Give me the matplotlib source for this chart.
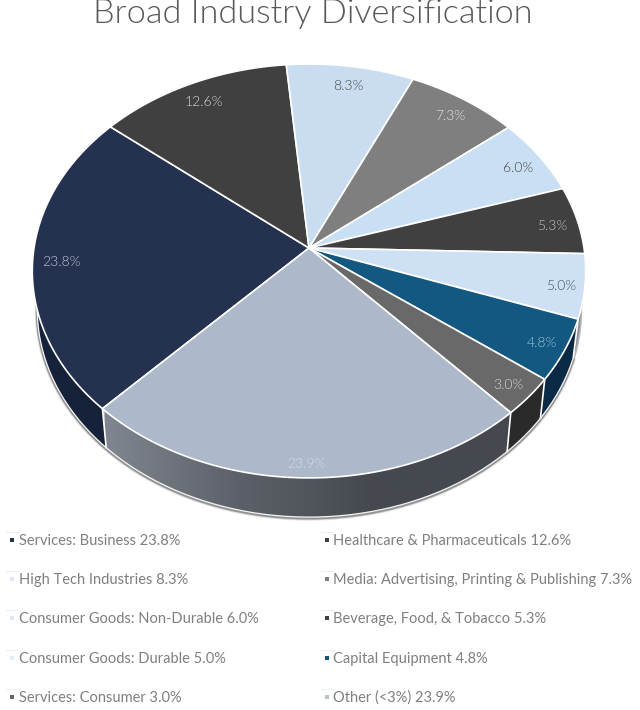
import numpy as np
import matplotlib
matplotlib.use("Agg")
import matplotlib.pyplot as plt
from matplotlib.colors import LinearSegmentedColormap
from matplotlib.patches import Polygon

# sector names, shares and colours, clockwise from the lower left
names = ["Services: Business", "Healthcare & Pharmaceuticals", "High Tech Industries",
         "Media: Advertising, Printing & Publishing", "Consumer Goods: Non-Durable",
         "Beverage, Food, & Tobacco", "Consumer Goods: Durable", "Capital Equipment",
         "Services: Consumer", "Other (<3%)"]
shares = [23.8, 12.6, 8.3, 7.3, 6.0, 5.3, 5.0, 4.8, 3.0, 23.9]
top_colors = ["#243250", "#404040", "#c9dcf0", "#7f7f7f", "#c9dff3",
              "#404040", "#cde0f4", "#125880", "#696969", "#adb9ca"]
side_colors = ["#16223a", "#2a2a2a", "#8a8f96", "#555555", "#8a8f96",
               "#2a2a2a", "#8a8f96", "#0b2a45", "#2a2a2a", None]
label_colors = ["#c0c8d8", "#d8d8d8", "#4a4a4a", "#e4e4e4", "#444444",
                "#c4c4c4", "#445060", "#9cc5e0", "#d8d8d8", "#d5dbe5"]
legend_colors = ["#243250", "#404040", "#dfe8f2", "#7f7f7f", "#dfe8f2",
                 "#404040", "#e4ecf5", "#125880", "#696969", "#b8c2d0"]
label_radius = [0.9, 0.9, 0.9, 0.9, 0.9, 0.9, 0.91, 0.91, 0.91, 0.935]

TEXT = "#7f7f7f"
FONT = ["Lato", "DejaVu Sans"]

# pie geometry in pixels, with a slight perspective
CX, CY = 309, 248
RX, RY = 275, 204.4
KP = 0.111
START = 226.3
DEPTH, RX2, RY2 = 38.5, 270, 205


def project(theta, r=1.0, rx=RX, ry=RY, dy=0):
    t = np.radians(theta)
    w = 1 + KP * r * np.sin(t)
    return CX + rx * r * np.cos(t) / w, CY + dy - ry * r * np.sin(t) / w


def lower(theta):
    return project(theta, 1.0, RX2, RY2, DEPTH)


fig = plt.figure(figsize=(6.4, 7.1), dpi=100)
ax = fig.add_axes([0, 0, 1, 1])

total = sum(shares)
edges = START - np.cumsum([0] + shares) * 360 / total

# soft shadow under the lower rim
rim = np.linspace(-20, -220, 200)
rx_l, ry_l = lower(rim)
for lw, a in [(4, 0.10), (3, 0.20), (2, 0.40)]:
    ax.plot(rx_l, ry_l + 1, color="#555555", lw=lw, alpha=a, zorder=1)
ax.fill(*project(np.linspace(0, 360, 300), 1.0, RX2 + 1.5, RY2 + 1, DEPTH + 1),
        color="#8a8a8a", alpha=0.6, lw=0, zorder=1)

# sides
grad = LinearSegmentedColormap.from_list("side", ["#80868f", "#5c6068", "#45494f", "#45494f"])
for i in range(len(shares)):
    th = np.linspace(edges[i], edges[i + 1], 80)
    x1, y1 = project(th)
    x2, y2 = lower(th)
    px, py = np.r_[x1, x2[::-1]], np.r_[y1, y2[::-1]]
    if side_colors[i] is None:
        # gradient side of the big front wedge
        poly = Polygon(np.c_[px, py], closed=True, facecolor="none", edgecolor="none",
                       transform=ax.transData)
        ax.add_patch(poly)
        im = ax.imshow(np.linspace(0, 1, 256)[None, :], cmap=grad, aspect="auto",
                       extent=[105, 510, 520, 400], zorder=2)
        im.set_clip_path(poly)
    else:
        ax.fill(px, py, color=side_colors[i], lw=0, zorder=2)

# white separators on the side and lower rim line
for a in edges[[0, 7, 8, 9]]:
    x1, y1 = project(a)
    x2, y2 = lower(a)
    ax.plot([x1, x2], [y1, y2], color="white", lw=1.2, zorder=3)
ax.plot(rx_l, ry_l, color="#f4f4f4", lw=0.9, zorder=3)

# top face
for i in range(len(shares)):
    th = np.linspace(edges[i], edges[i + 1], 80)
    x, y = project(th)
    ax.fill(np.r_[CX, x], np.r_[CY, y], facecolor=top_colors[i], edgecolor="white",
            lw=1.2, joinstyle="round", zorder=4)

# value labels
for i, v in enumerate(shares):
    mid = (edges[i] + edges[i + 1]) / 2
    x, y = project(mid, label_radius[i])
    ax.text(x + 1, y + 3, f"{v:.1f}%", color=label_colors[i], fontsize=10, family=FONT,
            weight=300, ha="center", va="center", zorder=5)

ax.text(313, 14, "Broad Industry Diversification", color="#595959", fontsize=24.7,
        family=FONT, weight=300, ha="center", va="center", zorder=6)

# legend in two columns
rows = [540, 579, 618, 658, 697]
for i, (name, v) in enumerate(zip(names, shares)):
    col = i % 2
    y = rows[i // 2]
    x_m = [11.5, 326.5][col]
    x_t = [19, 333][col]
    ax.plot([x_m - 6, x_m + 7], [y - 8.5, y - 8.5], color="#eeeeee", lw=0.7, zorder=1)
    ax.scatter([x_m], [y], marker="s", s=11, color=legend_colors[i], lw=0, zorder=5)
    ax.text(x_t, y + 1, f"{name} {v:.1f}%", color=TEXT, fontsize=10.5, family=FONT,
            ha="left", va="center", zorder=5)

ax.set_xlim(0, 640)
ax.set_ylim(710, 0)
ax.axis("off")
fig.savefig("out.png", dpi=100)
